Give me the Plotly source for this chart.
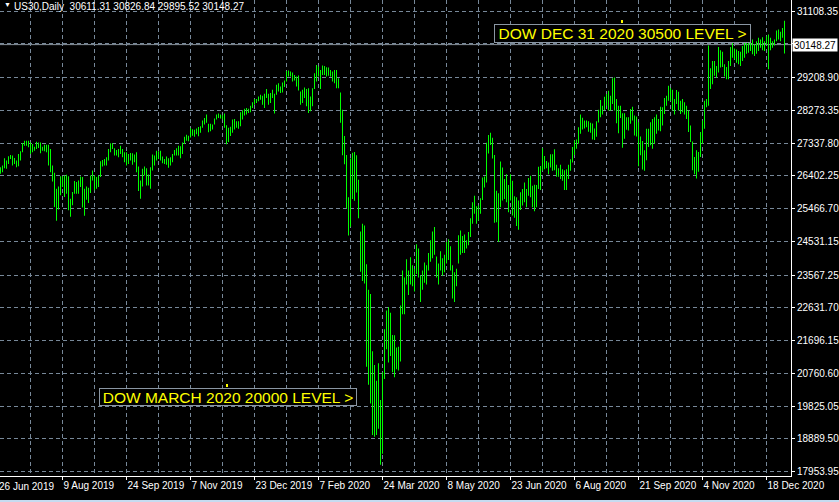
import plotly.graph_objects as go

# ---------------- DATA (daily US30 bars, 26 Jun 2019 -> 4 Jan 2021) ----------------
highs_a = [26650, 26648, 26696, 26904, 26837, 26960, 26998, 26979, 26913, 26837,
           27026, 27102, 27338, 27404, 27404, 27404, 27357, 27310, 27234, 27376,
           27357, 27357, 27234, 27291, 27291, 27291, 27168, 26696, 26488, 26034,
           26100, 26393, 26393, 26412, 26431, 26393, 25751, 25940, 26252, 26223,
           26270, 26384, 26365, 26034, 26100, 26063, 26412, 26554, 26412, 26365,
           26412, 26819, 26856, 26885, 26932, 27168, 27329, 27329, 27187, 27140,
           27168, 27263, 27168, 27074, 27074, 27026, 27055, 27045, 27008, 27074,
           26667, 26270, 26601, 26667, 26620, 26441, 26648, 27008, 26979, 27121,
           27102, 27121, 26951, 26885, 26951, 26904, 26932, 27026, 27140, 27187,
           27263, 27244, 27357, 27518, 27575, 27546, 27764, 27735, 27716, 27754]
lows_a = [26480, 26459, 26507, 26620, 26601, 26743, 26885, 26696, 26743, 26648,
          26677, 26837, 27074, 27263, 27263, 27215, 27026, 27074, 27121, 27168,
          27197, 27045, 27121, 27102, 27074, 26696, 26507, 26242, 25514, 25118,
          25439, 25845, 26081, 25798, 25892, 25420, 25231, 25562, 25892, 25892,
          25892, 26081, 25496, 25259, 25722, 25628, 25911, 26270, 25987, 26034,
          26081, 26365, 26667, 26696, 26696, 26837, 27074, 27168, 26979, 26979,
          26932, 27026, 26932, 26790, 26696, 26743, 26837, 26715, 26790, 26507,
          25968, 25751, 26100, 26412, 26129, 26129, 26034, 26554, 26696, 26837,
          26885, 26837, 26762, 26743, 26715, 26630, 26696, 26790, 26979, 26979,
          26979, 26904, 27026, 27310, 27404, 27386, 27499, 27546, 27518, 27590]

highs_b = [27795, 27820, 27980, 28056, 28150, 27886, 27886, 27867, 28037, 28150,
           28179, 28150, 28131, 28179, 27848, 27772, 27801, 28009, 28028, 27961,
           27961, 28216, 28273, 28320, 28339, 28320, 28405, 28500, 28594, 28594,
           28670, 28717, 28689, 28746, 28878, 28746, 28764, 28859, 28746, 29001,
           29048, 28954, 29067, 29124, 29398, 29407, 29379, 29350, 29284, 29237,
           29265, 28812, 28859, 28925, 28878, 28906, 28670, 28906, 29332, 29568,
           29521, 29426, 29549, 29539, 29502, 29492, 29426, 29379, 29426, 29426,
           29190, 28783, 28292, 27536, 26997, 25788, 26900, 27064, 27082, 26988,
           26289, 24814, 25032, 24985, 23880, 23150, 23030, 21390, 21000, 20550,
           21050, 20000, 20790, 22020, 22560, 22650, 22490, 21860, 21850, 21500]
lows_b = [27530, 27631, 27772, 27867, 27914, 27649, 27678, 27725, 27867, 28009,
          28056, 28037, 28009, 27772, 27300, 27366, 27536, 27631, 27725, 27772,
          27744, 27820, 28009, 28122, 28150, 28198, 28216, 28339, 28434, 28481,
          28528, 28576, 28434, 28339, 28623, 28434, 28481, 28623, 28179, 28717,
          28812, 28764, 28783, 28935, 29095, 29237, 29237, 29095, 29124, 28954,
          28840, 28434, 28481, 28623, 28387, 28198, 28245, 28387, 28878, 29095,
          29237, 28878, 29284, 29284, 29237, 29256, 29237, 29095, 29048, 28906,
          28906, 27914, 26988, 26733, 25476, 24701, 24950, 25741, 25693, 25929,
          25192, 23661, 23400, 23331, 20950, 20440, 19900, 19000, 18950, 19000,
          19180, 18150, 18470, 20600, 21450, 21070, 21260, 20790, 20650, 20880]

highs_c = [21520, 22700, 23700, 23500, 24020, 23700, 24080, 23850, 23750, 24447,
           24324, 23550, 23700, 23930, 23850, 24200, 24560, 24815, 24938, 24100,
           23900, 24250, 24050, 24150, 24513, 24588, 24390, 23850, 23650, 23750,
           24702, 24844, 24683, 24730, 24560, 24796, 25193, 25647, 25836, 25533,
           25552, 25760, 26355, 26384, 27348, 27565, 27631, 27490, 27000, 25978,
           25902, 26809, 26639, 26308, 26450, 26138, 26450, 26261, 25817, 25789,
           25694, 25930, 26025, 26214, 26025, 26337, 26403, 26119, 26148, 26138,
           26658, 26686, 27187, 26970, 26828, 26781, 27017, 27017, 27159, 26715,
           26620, 26715, 26592, 26563, 26592, 26715, 26875, 27225, 27414, 27442,
           27792, 28151, 28057, 27981, 27981, 27962, 27915, 27896, 27754, 27960]
lows_c = [20840, 21100, 22450, 22450, 23300, 23000, 23300, 23250, 23100, 23600,
          23500, 22800, 23150, 23350, 23300, 23700, 23950, 24050, 24150, 23500,
          23300, 23700, 23550, 23650, 23900, 24000, 23700, 22900, 22800, 23250,
          23900, 24150, 24200, 24200, 24324, 24418, 24654, 25033, 25316, 25033,
          25127, 25316, 25713, 26072, 26214, 27036, 27282, 26894, 25061, 25080,
          24513, 25505, 25694, 25741, 25647, 25363, 25694, 25269, 25203, 24966,
          24862, 25429, 25552, 25647, 25505, 25836, 25789, 25505, 25392, 25505,
          26025, 25996, 26544, 26592, 26620, 26450, 26639, 26545, 26563, 26375,
          26375, 26308, 26261, 25996, 25996, 26308, 26545, 26781, 27000, 27178,
          27319, 27603, 27726, 27754, 27792, 27660, 27631, 27442, 27423, 27518]

highs_d = [28290, 28566, 28406, 28661, 28736, 28831, 28689, 29190, 29209, 28595,
           28406, 28406, 28188, 28188, 28075, 28075, 28311, 28377, 28122, 28094,
           27933, 27527, 27395, 27130, 27744, 27744, 27933, 28028, 28075, 28151,
           28028, 28377, 28358, 28623, 28689, 28973, 28907, 28859, 28595, 28850,
           28803, 28547, 28595, 28500, 28406, 28264, 27839, 27385, 26941, 27130,
           27083, 27650, 27980, 28547, 28595, 30126, 29474, 29681, 29681, 29540,
           30078, 29984, 29946, 29587, 29511, 29681, 30078, 30201, 30041, 30012,
           29965, 29946, 30107, 30201, 30248, 30296, 30390, 30296, 30154, 30248,
           30343, 30296, 30362, 30248, 30390, 30437, 30343, 30248, 30296, 30551,
           30579, 30513, 30626, 30826.84]
lows_d = [27925, 28075, 28151, 28283, 28406, 28264, 28264, 28453, 28264, 27905,
          27621, 28056, 27206, 27461, 27716, 27697, 27886, 27980, 27555, 27527,
          26676, 26988, 26582, 26544, 26846, 27224, 27272, 27177, 27319, 27602,
          27697, 27678, 27839, 28169, 28406, 28547, 28547, 28264, 28151, 28453,
          28264, 28169, 28217, 28151, 28028, 27650, 27366, 26563, 26450, 26327,
          26516, 26941, 27319, 27744, 28358, 28406, 28878, 29020, 29256, 29209,
          29351, 29492, 29511, 29237, 29162, 29162, 29540, 29776, 29729, 29634,
          29587, 29540, 29681, 29776, 29889, 29918, 29965, 29870, 29823, 29889,
          29965, 30059, 29984, 29965, 30154, 29445, 29984, 30059, 30126, 30248,
          30296, 30248, 30343, 29895.52]

date_labels = ["26 Jun 2019", "9 Aug 2019", "24 Sep 2019", "7 Nov 2019", "23 Dec 2019",
               "7 Feb 2020", "24 Mar 2020", "8 May 2020", "23 Jun 2020", "6 Aug 2020",
               "21 Sep 2020", "4 Nov 2020", "18 Dec 2020"]
price_ticks = [17953.95, 18889.50, 19825.05, 20760.60, 21696.15, 22631.70, 23567.25,
               24531.15, 25466.70, 26402.25, 27337.80, 28273.35, 29208.90, 30172.80, 31108.35]
last_price = 30148.27
title_text = "US30,Daily  30611.31 30826.84 29895.52 30148.27"
note_top = "DOW DEC 31 2020 30500 LEVEL >"
note_bottom = "DOW MARCH 2020 20000 LEVEL >"

# ---------------- FIGURE ----------------
highs = highs_a + highs_b + highs_c + highs_d
lows = lows_a + lows_b + lows_c + lows_d
bar_index = list(range(len(highs)))
ranges = [h - l for h, l in zip(highs, lows)]

BARS_PER_LABEL = 32
tick_idx = [BARS_PER_LABEL * k for k in range(len(date_labels))]
grid_minor = [t + BARS_PER_LABEL // 2 for t in tick_idx]

W, H = 839, 502
ML, MR, MT, MB = 0, 48, 0, 26
plot_h = H - MT - MB
GRID = "#778899"
FONT = "Liberation Sans"

fig = go.Figure()
fig.add_trace(go.Bar(
    x=bar_index, base=lows, y=ranges, width=0.5,
    marker=dict(color="#00FF00", line=dict(width=0)),
    hoverinfo="skip", showlegend=False))

y_ticktext = ["%.2f" % v for v in price_ticks]
y_ticktext[price_ticks.index(30172.80)] = ""

fig.update_layout(
    width=W, height=H,
    margin=dict(l=ML, r=MR, t=MT, b=MB, pad=0),
    paper_bgcolor="#000000", plot_bgcolor="#000000",
    showlegend=False,
    font=dict(family=FONT, size=10, color="#FFFFFF"),
    xaxis=dict(
        range=[0.75, 396.25],
        tickmode="array", tickvals=tick_idx[1:], ticktext=date_labels[1:],
        ticks="outside", ticklen=3, tickcolor="#FFFFFF", tickwidth=1,
        ticklabelposition="outside right",
        showline=True, linecolor="#FFFFFF", linewidth=1,
        showgrid=True, gridcolor=GRID, gridwidth=1, griddash="4px,3px",
        minor=dict(tickmode="array", tickvals=grid_minor, showgrid=True,
                   gridcolor=GRID, gridwidth=1, griddash="4px,3px", ticks=""),
        zeroline=False, fixedrange=True,
        tickfont=dict(family=FONT, size=10, color="#FFFFFF"),
    ),
    yaxis=dict(
        side="right",
        range=[17831.2, 31422.3],
        tickmode="array", tickvals=price_ticks, ticktext=y_ticktext,
        ticks="outside", ticklen=3, tickcolor="#FFFFFF", tickwidth=1,
        showline=True, linecolor="#FFFFFF", linewidth=1,
        showgrid=True, gridcolor=GRID, gridwidth=1, griddash="4px,3px",
        zeroline=False, fixedrange=True,
        tickfont=dict(family=FONT, size=10, color="#FFFFFF"),
    ),
)

shapes = [
    # current price line
    dict(type="line", xref="paper", x0=0, x1=1, yref="y", y0=last_price, y1=last_price,
         line=dict(color="#8a949e", width=1), layer="below"),
    # light strip at the bottom of the window
    dict(type="rect", xref="paper", x0=-0.01, x1=1.08, yref="paper",
         y0=-(H - plot_h + 4) / plot_h, y1=-(500 - plot_h) / plot_h,
         fillcolor="#c6dbf0", line=dict(width=0)),
]
fig.update_layout(shapes=shapes)

ann = [
    dict(text="▼", xref="paper", x=2 / 791, xanchor="left", yref="paper", y=1, yanchor="top",
         yshift=1, showarrow=False, font=dict(size=7, color="#FFFFFF")),
    dict(text=title_text, xref="paper", x=12 / 791, xanchor="left", yref="paper", y=1,
         yanchor="top", yshift=1, showarrow=False, font=dict(family=FONT, size=10, color="#FFFFFF")),
    dict(text="%.2f" % last_price, xref="paper", x=1, xanchor="left", xshift=1,
         yref="y", y=last_price, yanchor="middle", showarrow=False,
         bgcolor="#FFFFFF", width=44, height=12, borderpad=0,
         font=dict(family=FONT, size=10, color="#000000")),
    dict(text=date_labels[0], xref="paper", x=0, xanchor="left", xshift=-3,
         yref="paper", y=0, yanchor="top", yshift=-3, showarrow=False,
         font=dict(family=FONT, size=10, color="#FFFFFF")),
    dict(text=note_top, xref="x", x=311.75, xanchor="center", yref="y", y=30474,
         yanchor="middle", showarrow=False, bgcolor="#000000", bordercolor="#8a96a3",
         borderwidth=1, borderpad=0, width=255, height=17,
         font=dict(family=FONT, size=15.5, color="#FFFF00")),
    dict(text=note_bottom, xref="x", x=114.7, xanchor="center", yref="y", y=20087,
         yanchor="middle", showarrow=False, bgcolor="#000000", bordercolor="#8a96a3",
         borderwidth=1, borderpad=0, width=256, height=16,
         font=dict(family=FONT, size=15.5, color="#FFFF00")),
]
fig.update_layout(annotations=ann)

# small yellow anchor marks of the two text objects
fig.add_shape(type="rect", xref="paper", yref="paper",
              x0=621 / 791, x1=623 / 791, y0=(plot_h - 23) / plot_h, y1=(plot_h - 20) / plot_h,
              fillcolor="#FFFF00", line=dict(width=0))
fig.add_shape(type="rect", xref="paper", yref="paper",
              x0=226 / 791, x1=228 / 791, y0=(plot_h - 387) / plot_h, y1=(plot_h - 384) / plot_h,
              fillcolor="#FFFF00", line=dict(width=0))

fig.write_html("out.html",
               config={"displayModeBar": False},
               post_script="document.body.style.margin='0';document.body.style.background='#000';")
